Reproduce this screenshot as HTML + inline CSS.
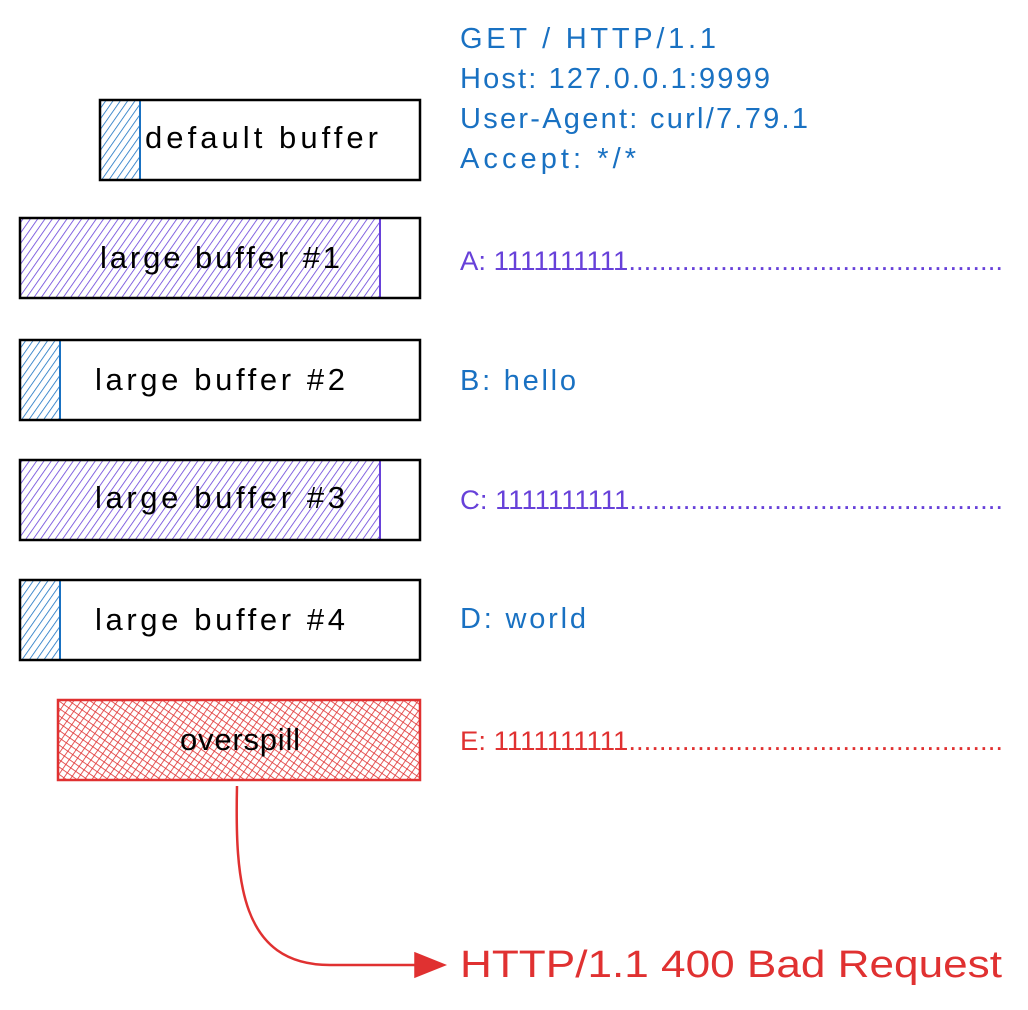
<!DOCTYPE html>
<html><head><meta charset="utf-8"><style>
html,body{margin:0;padding:0;background:#fff;}
svg{display:block}
text{font-family:"Liberation Sans",sans-serif;}
</style></head><body>
<svg width="1028" height="1010" viewBox="0 0 1028 1010" xmlns="http://www.w3.org/2000/svg">
<defs>
<pattern id="hb" width="6" height="6" patternUnits="userSpaceOnUse" patternTransform="rotate(35)"><line x1="0" y1="0" x2="0" y2="6" stroke="#1971c2" stroke-width="1.6"/></pattern>
<pattern id="hp" width="6" height="6" patternUnits="userSpaceOnUse" patternTransform="rotate(35)"><line x1="0" y1="0" x2="0" y2="6" stroke="#6741d9" stroke-width="1.6"/></pattern>
<pattern id="hr" width="6" height="6" patternUnits="userSpaceOnUse" patternTransform="rotate(35)"><line x1="0" y1="0" x2="0" y2="6" stroke="#e03131" stroke-width="1.6"/><line x1="0" y1="0" x2="6" y2="0" stroke="#e03131" stroke-width="1.6"/></pattern>
</defs>
<g stroke-width="2.5" fill="none">
<rect x="100" y="100" width="40" height="80" fill="url(#hb)" stroke="#1971c2" stroke-width="2"/>
<rect x="100" y="100" width="320" height="80" stroke="#000"/>
<rect x="20" y="218" width="360" height="80" fill="url(#hp)" stroke="#6741d9" stroke-width="2"/>
<rect x="20" y="218" width="400" height="80" stroke="#000"/>
<rect x="20" y="340" width="40" height="80" fill="url(#hb)" stroke="#1971c2" stroke-width="2"/>
<rect x="20" y="340" width="400" height="80" stroke="#000"/>
<rect x="20" y="460" width="360" height="80" fill="url(#hp)" stroke="#6741d9" stroke-width="2"/>
<rect x="20" y="460" width="400" height="80" stroke="#000"/>
<rect x="20" y="580" width="40" height="80" fill="url(#hb)" stroke="#1971c2" stroke-width="2"/>
<rect x="20" y="580" width="400" height="80" stroke="#000"/>
<rect x="58" y="700" width="362" height="80" fill="url(#hr)" stroke="#e03131"/>
<path d="M237 786 C 235 880, 240 965, 330 965 L 440 965" stroke="#e03131"/>
<path d="M415 953 L 445 965 L 415 977 Z" fill="#e03131" stroke="#e03131" stroke-width="1.5"/>
</g>
<g font-size="31" fill="#000" lengthAdjust="spacingAndGlyphs">
<text x="145" y="148" textLength="233">default buffer</text>
<text x="100" y="268" textLength="240">large buffer #1</text>
<text x="95" y="390" textLength="250">large buffer #2</text>
<text x="95" y="508" textLength="250">large buffer #3</text>
<text x="95" y="630" textLength="250">large buffer #4</text>
<text x="180" y="750" textLength="120">overspill</text>
</g>
<g font-size="29" fill="#1971c2" lengthAdjust="spacingAndGlyphs">
<text x="460" y="48" textLength="256">GET / HTTP/1.1</text>
<text x="460" y="88" textLength="310">Host: 127.0.0.1:9999</text>
<text x="460" y="128" textLength="348">User-Agent: curl/7.79.1</text>
<text x="460" y="168" textLength="176">Accept: */*</text>
<text x="460" y="390" textLength="116">B: hello</text>
<text x="460" y="628" textLength="126">D: world</text>
</g>
<g font-size="27">
<text x="460" y="270" fill="#6741d9" textLength="543" lengthAdjust="spacingAndGlyphs">A: 1111111111.................................................</text>
<text x="460" y="509" fill="#6741d9" textLength="543" lengthAdjust="spacingAndGlyphs">C: 1111111111.................................................</text>
<text x="460" y="750" fill="#e03131" textLength="543" lengthAdjust="spacingAndGlyphs">E: 1111111111.................................................</text>
</g>
<text x="460" y="977" font-size="38" fill="#e03131" textLength="542" lengthAdjust="spacingAndGlyphs">HTTP/1.1 400 Bad Request</text>
</svg>
</body></html>
